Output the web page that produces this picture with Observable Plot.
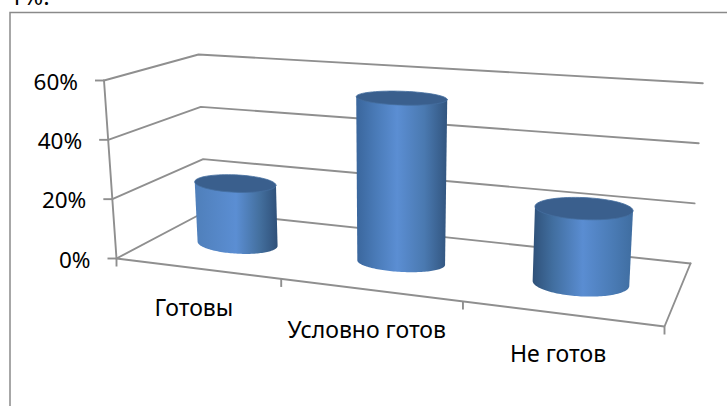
<!DOCTYPE html>
<html><head><meta charset="utf-8">
<script src="https://cdn.jsdelivr.net/npm/d3@7"></script>
<script src="https://cdn.jsdelivr.net/npm/@observablehq/plot@0.6"></script>
<style>html,body{margin:0;padding:0;background:#fff;overflow:hidden}</style>
</head><body><div id="chart"></div>
<script>
// Data
const categories = ["Готовы", "Условно готов", "Не готов"];
const values = [21, 55, 24];
const yTicks = [0, 20, 40, 60];
const clippedHeading = "1%:";

// Perspective view of the chart box (layout, not data)
const W = 727, H = 406, yMax = 60;
const floorQuad = [[116,258],[664,326],[690,263],[205,211]];
// full-scale rise of each floor corner: [x shift, height]
const rise = [[-12.5,178],[10,200],[12.3,180.3],[-7,157]];
function homography([[x0,y0],[x1,y1],[x2,y2],[x3,y3]]) {
  const dx1=x1-x2, dx2=x3-x2, sx=x0-x1+x2-x3, dy1=y1-y2, dy2=y3-y2, sy=y0-y1+y2-y3;
  const den=dx1*dy2-dx2*dy1, g=(sx*dy2-dx2*sy)/den, h=(dx1*sy-sx*dy1)/den;
  const a=x1-x0+g*x1, b=x3-x0+h*x3, d=y1-y0+g*y1, e=y3-y0+h*y3;
  return (s,t)=>{const q=g*s+h*t+1; return [(a*s+b*t+x0)/q,(d*s+e*t+y0)/q];};
}
const hFloor=homography(floorQuad);
// u: category units, v: depth 0..1, w: value
function project(u,v,w){
  const s=u/categories.length, p=hFloor(s,v), k=w/yMax;
  const bi=j=>(rise[0][j]*(1-s)+rise[1][j]*s)*(1-v)+(rise[3][j]*(1-s)+rise[2][j]*s)*v;
  return [p[0]+bi(0)*k, p[1]-bi(1)*k];
}
const depthMid=0.47, radius=0.256, tiltFactor=0.45;
const ryTop=[8.7,6.9,11], ryBottom=[10,9.3,13];
function ring(i,w,ry){
  const c=project(i+.5,depthMid,w), a=project(i+.5-radius,depthMid,w), b=project(i+.5+radius,depthMid,w);
  const rx=(b[0]-a[0])/2, sl=(b[1]-a[1])/(b[0]-a[0])*tiltFactor;
  return {c,rx,sl,ry,at:t=>[c[0]+rx*Math.cos(t), c[1]+rx*sl*Math.cos(t)+ry*Math.sin(t)]};
}
const arc=(r,t0,t1,n=72)=>d3.range(n+1).map(k=>r.at(t0+(t1-t0)*k/n));
const toRows=pts=>pts.map(([x,y])=>({x,y}));

const sideGrad=[
 [["0","#4f7fba"],[".5","#5b8ed3"],[".78","#44709f"],["1","#2f5079"]],
 [["0","#3a669c"],[".22","#4a7bb8"],[".45","#5b8ed3"],[".75","#4a79b0"],["1","#32557f"]],
 [["0","#2f5179"],[".2","#416e9f"],[".5","#5a8dd2"],[".8","#4a7bb5"],["1","#3f6da0"]]
];
const defs=()=>{
  const g=document.createElementNS("http://www.w3.org/2000/svg","defs");
  g.innerHTML=sideGrad.map((st,i)=>`<linearGradient id="side${i}" x1="0" x2="1" y1="0" y2="0">${st.map(([o,c])=>`<stop offset="${o}" stop-color="${c}"/>`).join("")}</linearGradient>`).join("");
  return g;
};

const gridStroke="#8f8f8f";
const gridPaths=yTicks.flatMap(w=>[[0,0],[0,1],[3,1]].map(([u,v])=>{const [x,y]=project(u,v,w);return {x,y,w};}));
const floorFront=[[0,0],[3,0],[3,1]].map(([u,v])=>{const [x,y]=project(u,v,0);return {x,y};});
const wall=[0,yMax].map(w=>{const [x,y]=project(0,0,w);return {x,y};});
const yTickRows=yTicks.map(w=>{const [x,y]=project(0,0,w);return {x,y,label:`${w}%`};});
const xTickRows=d3.range(categories.length+1).map(u=>{const [x,y]=project(u,0,0);return {x,y};});
const xLabelRows=categories.map((c,i)=>{const [x,y]=project(i+.5,0,0);return {x,y,c};});

const font='"Noto Sans", sans-serif';
const cyl=values.flatMap((val,i)=>{
  const top=ring(i,val,ryTop[i]), bot=ring(i,0,ryBottom[i]);
  const side=[top.at(Math.PI),...arc(bot,Math.PI,0),top.at(0)];
  return [
    Plot.line(toRows(side.concat([side[0]])),{x:"x",y:"y",fill:`url(#side${i})`,stroke:"none"}),
    Plot.line(toRows(arc(top,0,2*Math.PI)),{x:"x",y:"y",fill:"#3a5f8d",stroke:"#456f9f",strokeWidth:.8})
  ];
});

const chart=Plot.plot({
  width:W,height:H,margin:0,
  style:{background:"#fff",fontFamily:font},
  x:{domain:[0,W],range:[0,W],axis:null},
  y:{domain:[0,H],range:[0,H],axis:null},
  marks:[
    defs,
    Plot.frame({stroke:"#8a8a8a",strokeWidth:1.5,insetLeft:9.5,insetTop:12,insetRight:-10,insetBottom:-10}),
    Plot.text([clippedHeading],{x:()=>9,y:()=>4,text:d=>d,textAnchor:"start",lineAnchor:"bottom",fontSize:24,fill:"#000"}),
    Plot.line(gridPaths,{x:"x",y:"y",z:"w",stroke:gridStroke,strokeWidth:1.9}),
    Plot.line(floorFront,{x:"x",y:"y",stroke:gridStroke,strokeWidth:1.9}),
    Plot.line(wall,{x:"x",y:"y",stroke:gridStroke,strokeWidth:1.9}),
    Plot.link(yTickRows,{x1:d=>d.x-9,y1:"y",x2:"x",y2:"y",stroke:gridStroke,strokeWidth:1.9}),
    Plot.link(xTickRows,{x1:"x",y1:"y",x2:"x",y2:d=>d.y+8,stroke:gridStroke,strokeWidth:1.9}),
    ...cyl,
    Plot.text(yTickRows,{x:"x",y:"y",text:"label",dx:-26,dy:2,textAnchor:"end",fontSize:22.5,fill:"#000"}),
    Plot.text(xLabelRows,{x:"x",y:"y",text:"c",dx:-3,dy:40.5,textAnchor:"middle",fontSize:23,fill:"#000"})
  ]
});
document.getElementById("chart").append(chart);
</script></body></html>
